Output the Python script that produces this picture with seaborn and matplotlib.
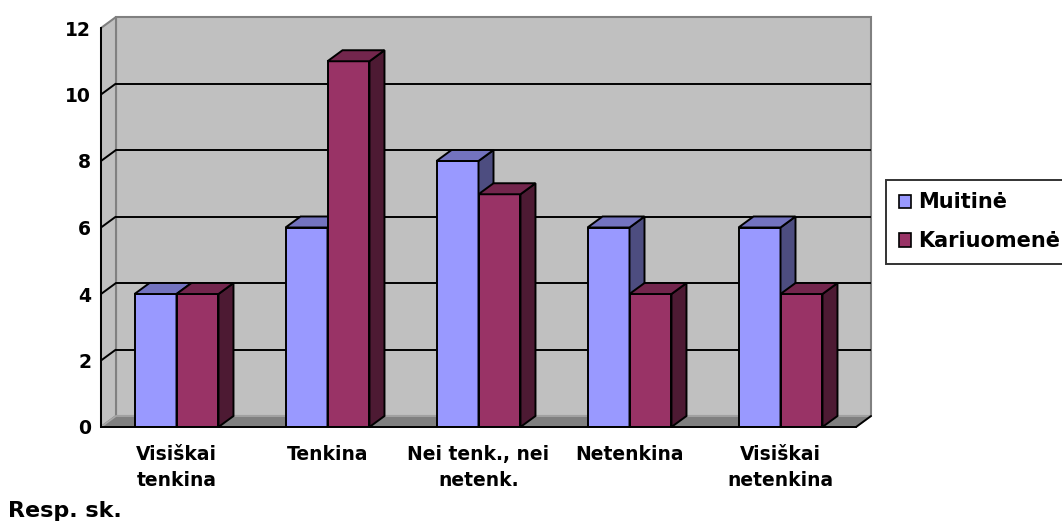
import matplotlib
matplotlib.use("Agg")
import matplotlib.pyplot as plt
from matplotlib.patches import Polygon, Rectangle, Patch
import seaborn as sns
import pandas as pd

categories = ["Visiškai\ntenkina", "Tenkina", "Nei tenk., nei\nnetenk.", "Netenkina", "Visiškai\nnetenkina"]
muitine = [4, 6, 8, 6, 6]
kariuomene = [4, 11, 7, 4, 4]
series_names = ["Muitinė", "Kariuomenė"]
y_ticks = [0, 2, 4, 6, 8, 10, 12]

front_colors = ["#9999FF", "#993366"]
top_colors = ["#7373BF", "#73264D"]
side_colors = ["#4D4D80", "#4D1A33"]
wall_color = "#C0C0C0"
floor_color = "#808080"
edge_gray = "#808080"

df = pd.DataFrame({
    "Vertinimas": categories * 2,
    "Institucija": [series_names[0]] * len(categories) + [series_names[1]] * len(categories),
    "Resp": muitine + kariuomene,
})

sns.set_style("white")
plt.rcParams["font.family"] = ["DejaVu Sans"]
plt.rcParams["font.weight"] = "bold"
plt.rcParams["text.color"] = "black"
plt.rcParams["xtick.color"] = "black"
plt.rcParams["ytick.color"] = "black"
plt.rcParams["xtick.labelcolor"] = "black"
plt.rcParams["ytick.labelcolor"] = "black"

W, H = 1062, 525
fig = plt.figure(figsize=(W / 100, H / 100), dpi=100)

# pixel frame of the plot box (front plane + depth)
px_left, px_right, px_top, px_bottom = 101, 871, 17, 427
ax = fig.add_axes([px_left / W, (H - px_bottom) / H,
                   (px_right - px_left) / W, (px_bottom - px_top) / H])

n = len(categories)
px_per_cat = 151.0
px_per_unit = 33.25
dx = 15 / px_per_cat          # depth offset in category units
dy = 11 / px_per_unit         # depth offset in value units
ymax = 12

lw = 1.4

sns.barplot(data=df, x="Vertinimas", y="Resp", hue="Institucija",
            palette=front_colors, width=0.556, gap=0, saturation=1,
            edgecolor="black", linewidth=lw, legend=False, ax=ax)

x0, x1 = -0.5, n - 0.5
ax.set_xlim(x0, x1 + dx)
ax.set_ylim(0, ymax + dy)

# 3D faces of every bar
for i, cont in enumerate(ax.containers):
    z = 3 + i
    for bar in cont:
        bx0 = bar.get_x()
        bx1 = bx0 + bar.get_width()
        h = bar.get_height()
        bar.set_zorder(z)
        top = Polygon([(bx0, h), (bx1, h), (bx1 + dx, h + dy), (bx0 + dx, h + dy)],
                      closed=True, facecolor=top_colors[i], edgecolor="black",
                      linewidth=lw, joinstyle="miter", zorder=z, clip_on=False)
        side = Polygon([(bx1, 0), (bx1 + dx, dy), (bx1 + dx, h + dy), (bx1, h)],
                       closed=True, facecolor=side_colors[i], edgecolor="black",
                       linewidth=lw, joinstyle="miter", zorder=z, clip_on=False)
        ax.add_patch(side)
        ax.add_patch(top)

# back wall, side wall and floor
ax.add_patch(Rectangle((x0 + dx, dy), x1 - x0, ymax, facecolor=wall_color,
                       edgecolor=edge_gray, linewidth=1.5, zorder=0.5, clip_on=False))
ax.add_patch(Polygon([(x0, 0), (x0 + dx, dy), (x0 + dx, ymax + dy), (x0, ymax)],
                     closed=True, facecolor=wall_color, edgecolor=edge_gray,
                     linewidth=1.5, zorder=0.6, clip_on=False))
ax.add_patch(Polygon([(x0, 0), (x1, 0), (x1 + dx, dy), (x0 + dx, dy)],
                     closed=True, facecolor=floor_color, edgecolor="#A8A8A8",
                     linewidth=1.2, zorder=0.8, clip_on=False))

# gridlines on the back and side walls
for v in y_ticks[1:-1]:
    ax.plot([x0 + dx, x1 + dx], [v + dy, v + dy], color="black", lw=lw, zorder=1)
    ax.plot([x0, x0 + dx], [v, v + dy], color="black", lw=lw, zorder=1,
            solid_capstyle="butt")
# front right floor edge
ax.plot([x1, x1 + dx], [0, dy], color="black", lw=lw, zorder=2, clip_on=False)

for s in ["top", "right"]:
    ax.spines[s].set_visible(False)
ax.spines["left"].set_bounds(0, ymax)
ax.spines["bottom"].set_bounds(x0, x1)
for s in ["left", "bottom"]:
    ax.spines[s].set_color("black")
    ax.spines[s].set_linewidth(lw)
    ax.spines[s].set_zorder(6)

ax.set_yticks(y_ticks)
ax.set_yticklabels([str(v) for v in y_ticks], fontsize=13.5, fontweight="bold")
ax.tick_params(axis="y", direction="out", length=4.5, width=lw, pad=2.5, color="black")

ax.set_xticks(range(n))
ax.set_xticklabels(categories, fontsize=13.5, fontweight="bold", linespacing=1.45)
ax.set_xticks([i - 0.5 for i in range(n + 1)], minor=True)
ax.tick_params(axis="x", which="major", length=0, pad=13)
ax.tick_params(axis="x", which="minor", direction="out", length=4.5, width=lw, color="black")
ax.set_xlabel("")
ax.set_ylabel("")

handles = [Patch(facecolor=c, edgecolor="black", linewidth=1.2) for c in front_colors]
leg = fig.legend(handles, series_names, loc="upper left",
                 bbox_to_anchor=(886 / W, 1 - 180 / H), frameon=True, fancybox=False,
                 prop={"size": 15, "weight": "bold"}, handlelength=0.6,
                 handleheight=0.6, handletextpad=0.35, labelspacing=0.9,
                 borderpad=0.6, borderaxespad=0)
leg.get_frame().set_edgecolor("black")
leg.get_frame().set_linewidth(1.4)
for t in leg.get_texts():
    t.set_color("black")

fig.text(8 / W, (H - 517) / H, "Resp. sk.", fontsize=16, fontweight="bold",
         va="baseline", ha="left", color="black")

fig.savefig("out.png", dpi=100, facecolor="white")
